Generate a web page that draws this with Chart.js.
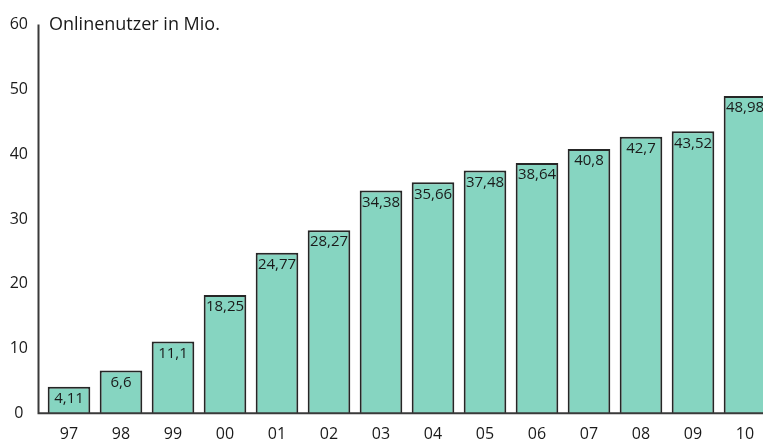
<!DOCTYPE html>
<html>
<head>
<meta charset="utf-8">
<script src="https://cdn.jsdelivr.net/npm/chart.js@4"></script>
<style>
  html, body { margin: 0; padding: 0; background: #fff; overflow: hidden; }
  #wrap { width: 763px; height: 444px; overflow: hidden; }
  #wrap div { width: 772px; height: 444px; }
</style>
</head>
<body>
<div id="wrap"><div><canvas id="graph"></canvas></div></div>
<script>
// values
const years = ['97', '98', '99', '00', '01', '02', '03', '04', '05', '06', '07', '08', '09', '10'];
const users = [4.11, 6.6, 11.1, 18.25, 24.77, 28.27, 34.38, 35.66, 37.48, 38.64, 40.8, 42.7, 43.52, 48.98];
const yTicks = [0, 10, 20, 30, 40, 50, 60];
const unitLabel = 'Onlinenutzer in Mio.';

const font = "'Open Sans', sans-serif";
const axisColor = '#3a3a3a';

// value inside each bar near the top, decimal comma, centred (left if too wide)
const barLabels = {
    id: 'barLabels',
    afterDatasetsDraw(chart) {
        const ctx = chart.ctx;
        const meta = chart.getDatasetMeta(0);
        ctx.save();
        ctx.font = '15px ' + font;
        ctx.fillStyle = '#1a1a1a';
        ctx.textBaseline = 'middle';
        meta.data.forEach(function (bar, i) {
            const txt = String(users[i]).replace('.', ',');
            const w = ctx.measureText(txt).width;
            const left = bar.x - bar.width / 2;
            let x = bar.x - w / 2;
            if (w > bar.width - 4) x = left + 2;
            ctx.textAlign = 'left';
            ctx.fillText(txt, x, bar.y + 12);
        });
        ctx.restore();
    }
};

// axis lines a little left of the first category, plus the unit label
const axesAndTitle = {
    id: 'axesAndTitle',
    afterDraw(chart) {
        const ctx = chart.ctx;
        const a = chart.chartArea;
        const ax = a.left - 4.5;
        ctx.save();
        ctx.strokeStyle = axisColor;
        ctx.lineWidth = 2;
        ctx.beginPath();
        ctx.moveTo(ax, a.top);
        ctx.lineTo(ax, a.bottom);
        ctx.lineTo(chart.width, a.bottom);
        ctx.stroke();

        ctx.font = '18px ' + font;
        ctx.fillStyle = '#1a1a1a';
        ctx.textAlign = 'left';
        ctx.textBaseline = 'middle';
        ctx.fillText(unitLabel, a.left + 6, a.top);
        ctx.restore();
    }
};

const ct1 = document.getElementById('graph').getContext('2d');
const myChart = new Chart(ct1, {
    type: 'bar',
    data: {
        labels: years,
        datasets: [{
            data: users,
            backgroundColor: '#86d5c1',
            borderColor: '#262626',
            borderWidth: 2,
            categoryPercentage: 0.82,
            barPercentage: 1
        }]
    },
    options: {
        responsive: true,
        maintainAspectRatio: false,
        animation: false,
        layout: { padding: { top: 21, right: 1, bottom: 0, left: 0 } },
        plugins: {
            legend: { display: false },
            tooltip: { enabled: false }
        },
        scales: {
            x: {
                grid: { display: false, drawTicks: false },
                border: { display: false },
                ticks: { color: '#1a1a1a', font: { family: font, size: 16 }, padding: 12, maxRotation: 0 },
                afterFit(scale) { scale.height = 30.7; }
            },
            y: {
                min: 0,
                max: 60,
                grid: { display: false, drawTicks: false },
                border: { display: false },
                afterBuildTicks(scale) { scale.ticks = yTicks.map(v => ({ value: v })); },
                ticks: { color: '#1a1a1a', font: { family: font, size: 16 }, crossAlign: 'center', padding: 15 },
                afterFit(scale) { scale.width = 43; }
            }
        }
    },
    plugins: [barLabels, axesAndTitle]
});
</script>
</body>
</html>
